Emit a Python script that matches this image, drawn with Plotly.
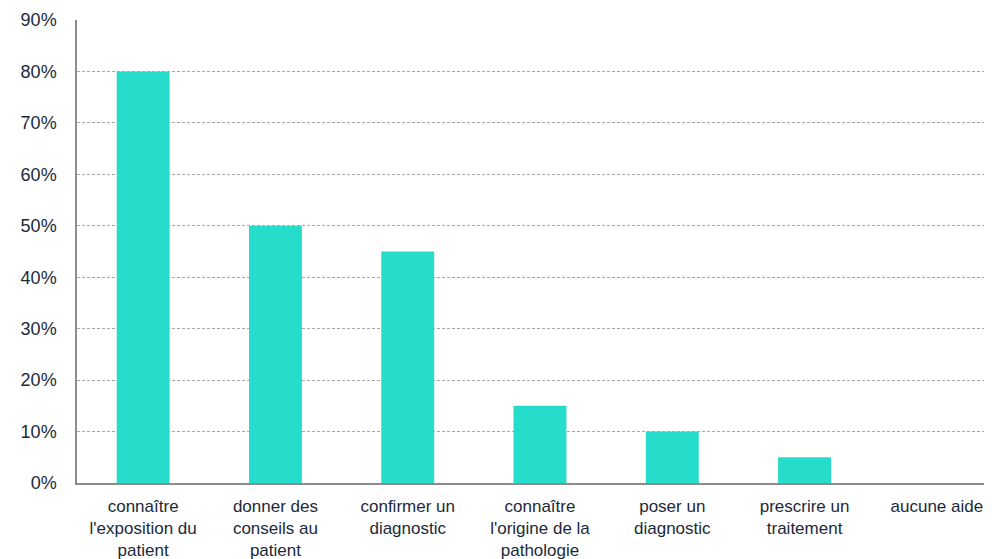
import plotly.graph_objects as go

categories = [
    "connaître<br>l'exposition du<br>patient",
    "donner des<br>conseils au<br>patient",
    "confirmer un<br>diagnostic",
    "connaître<br>l'origine de la<br>pathologie",
    "poser un<br>diagnostic",
    "prescrire un<br>traitement",
    "aucune aide",
]
values = [0.80, 0.50, 0.45, 0.15, 0.10, 0.05, 0.0]
tick_vals = [0, 0.1, 0.2, 0.3, 0.4, 0.5, 0.6, 0.7, 0.8, 0.9]
tick_text = ["0%", "10%", "20%", "30%", "40%", "50%", "60%", "70%", "80%", "90%"]

text_color = "#1B2A3A"

fig = go.Figure(
    go.Bar(
        x=list(range(len(categories))),
        y=values,
        width=0.4,
        marker=dict(color="#26DCCB", line=dict(width=0)),
    )
)

fig.update_layout(
    width=984,
    height=559,
    margin=dict(l=69, r=0, t=12, b=84),
    paper_bgcolor="white",
    plot_bgcolor="white",
    showlegend=False,
    font=dict(family="Liberation Sans, Arial, sans-serif", color=text_color),
)

fig.update_xaxes(
    tickmode="array",
    tickvals=list(range(len(categories))),
    ticktext=categories,
    range=[-0.5, 6.417],
    showline=True,
    linecolor="#8C8C8C",
    linewidth=1.5,
    showgrid=False,
    ticks="",
    tickfont=dict(size=17, color=text_color),
    ticklabelstandoff=7,
    fixedrange=True,
)

fig.update_yaxes(
    range=[0, 0.9],
    tickmode="array",
    tickvals=tick_vals,
    ticktext=tick_text,
    showline=True,
    linecolor="#8C8C8C",
    linewidth=1.5,
    showgrid=True,
    gridcolor="#A8A8A8",
    griddash="3px,2px",
    gridwidth=1,
    zeroline=False,
    ticks="",
    tickfont=dict(size=18, color=text_color),
    ticklabelstandoff=15,
    fixedrange=True,
)

fig.write_html("out.html")
